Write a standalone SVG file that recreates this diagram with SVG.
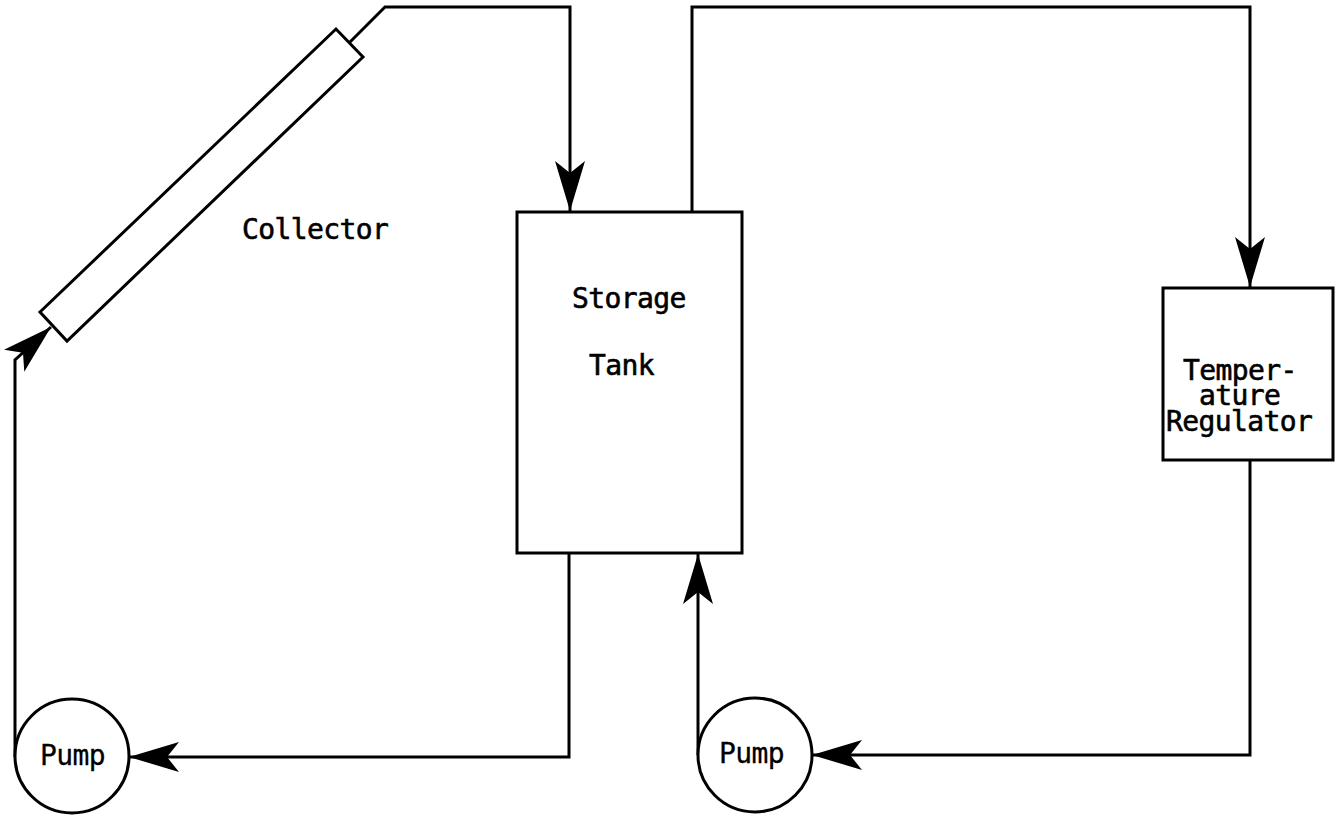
<svg xmlns="http://www.w3.org/2000/svg" width="1341" height="818" viewBox="0 0 1341 818">
  <style>
    .shape { fill: #fff; stroke: #000; stroke-width: 3; }
    .pipe { fill: none; stroke: #000; stroke-width: 3; stroke-linejoin: miter; }
    .label { font-family: "DejaVu Sans Mono", "Liberation Mono", monospace; font-size: 28px; letter-spacing: -0.6px; fill: #000; stroke: #000; stroke-width: 0.6px; }
    .pump { stroke-width: 0.3px; }
  </style>
  <defs>
    <!-- notched flow arrowhead, tip at the path end -->
    <marker id="arrow" markerUnits="userSpaceOnUse" viewBox="-52 -17 54 34" markerWidth="54" markerHeight="34" refX="0" refY="0" orient="auto">
      <path d="M0,0 L-50,-15 L-38,0 L-50,15 Z" fill="#000"/>
    </marker>
  </defs>

  <rect width="1341" height="818" fill="#fff"/>

  <g id="connectors">
    <!-- collector outlet to storage tank -->
    <path class="pipe" d="M350,42 L385,7 L570,7 L570,211" marker-end="url(#arrow)"/>
    <!-- storage tank to temperature regulator -->
    <path class="pipe" d="M692,212 L692,7 L1250,7 L1250,287" marker-end="url(#arrow)"/>
    <!-- regulator to right pump -->
    <path class="pipe" d="M1250,460 L1250,755 L812,755" marker-end="url(#arrow)"/>
    <!-- right pump back to storage tank -->
    <path class="pipe" d="M698,755 L698,554" marker-end="url(#arrow)"/>
    <!-- storage tank to left pump -->
    <path class="pipe" d="M569,553 L569,757 L129,757" marker-end="url(#arrow)"/>
    <!-- left pump up to collector inlet -->
    <path class="pipe" d="M15,757 L15,360 L51,327" marker-end="url(#arrow)"/>
  </g>

  <g id="collector">
    <polygon class="shape" points="40,312 336,29 363,57 67,341"/>
    <text class="label" x="242" y="239">Collector</text>
  </g>

  <g id="storage-tank">
    <rect class="shape" x="517" y="212" width="225" height="341"/>
    <text class="label" x="572" y="308">Storage</text>
    <text class="label" x="589" y="375">Tank</text>
  </g>

  <g id="temperature-regulator">
    <rect class="shape" x="1163" y="288" width="170" height="172"/>
    <text class="label" x="1183" y="380">Temper-</text>
    <text class="label" x="1199" y="405">ature</text>
    <text class="label" x="1166" y="431">Regulator</text>
  </g>

  <g id="pump-left">
    <circle class="shape" cx="72" cy="756" r="57"/>
    <text class="label pump" x="40" y="765">Pump</text>
  </g>

  <g id="pump-right">
    <circle class="shape" cx="755" cy="755" r="57"/>
    <text class="label pump" x="719" y="763">Pump</text>
  </g>
</svg>
